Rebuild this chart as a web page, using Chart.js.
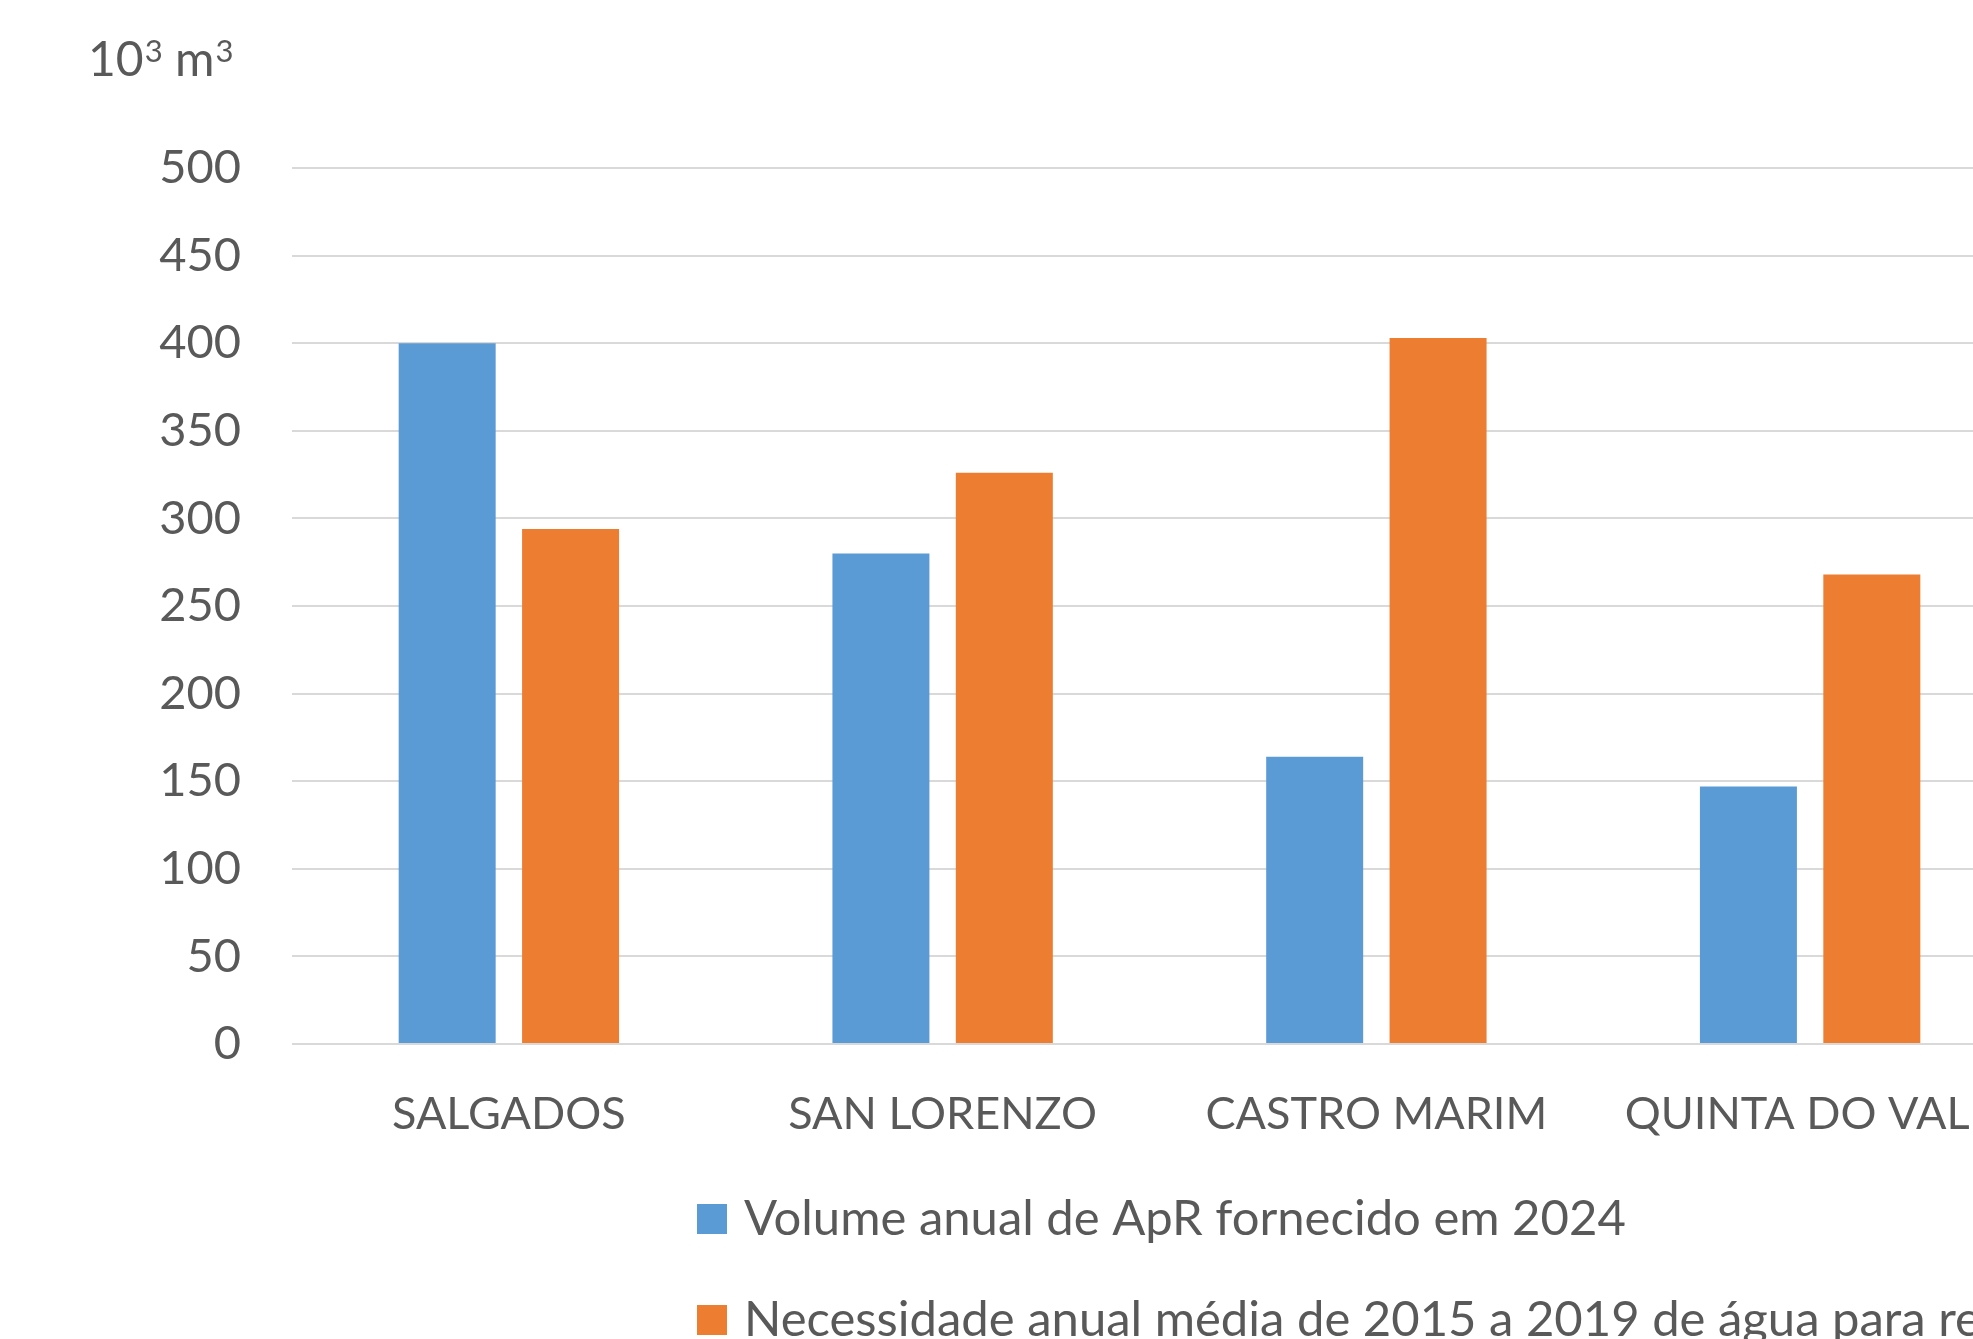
<!DOCTYPE html>
<html>
<head>
<meta charset="utf-8">
<script src="https://cdn.jsdelivr.net/npm/chart.js@4.4.1/dist/chart.umd.min.js"></script>
<style>
  html, body { margin: 0; padding: 0; background: #ffffff; overflow: hidden; }
  canvas { display: block; }
</style>
</head>
<body>
<canvas id="c" width="2060" height="1400" style="width:2060px;height:1400px"></canvas>
<script>
const categories = ['SALGADOS', 'SAN LORENZO', 'CASTRO MARIM', 'QUINTA DO VALE'];
const volume2024 = [400, 280, 164, 147];
const necessidade2015_2019 = [294, 326, 403, 268];
const seriesLabels = [
  'Volume anual de ApR fornecido em 2024',
  'Necessidade anual média de 2015 a 2019 de água para rega'
];
const unitParts = [['10', false], ['3', true], [' m', false], ['3', true]]; // 10³ m³
const yMin = 0, yMax = 500, yStep = 50;

const FONT = 'Lato, "Open Sans", sans-serif';
const TEXT = '#595959';
const BLUE = '#5B9BD5';
const ORANGE = '#ED7D31';

const extras = {
  id: 'extras',
  afterDraw(chart) {
    const ctx = chart.ctx;
    const area = chart.chartArea;
    ctx.save();
    ctx.fillStyle = TEXT;
    ctx.textAlign = 'left';
    // unit label 10³ m³
    let x = 88;
    ctx.textBaseline = 'alphabetic';
    unitParts.forEach(([t, sup]) => {
      ctx.font = (sup ? 31 : 48) + 'px ' + FONT;
      const y = sup ? 62 : 76;
      ctx.fillText(t, x, y);
      x += ctx.measureText(t).width + (sup ? 0 : 1);
    });
    // legend
    ctx.font = '49px ' + FONT;
    const lx = area.left + 405;
    const rows = [area.bottom + 175, area.bottom + 276];
    chart.data.datasets.forEach((ds, i) => {
      const cy = rows[i];
      ctx.fillStyle = ds.backgroundColor;
      ctx.fillRect(lx, cy - 15, 30, 30);
      ctx.fillStyle = TEXT;
      ctx.textBaseline = 'middle';
      ctx.fillText(ds.label, lx + 47, cy);
    });
    ctx.restore();
  }
};

new Chart(document.getElementById('c'), {
  type: 'bar',
  data: {
    labels: categories,
    datasets: [
      { label: seriesLabels[0], data: volume2024, backgroundColor: BLUE, borderWidth: 0 },
      { label: seriesLabels[1], data: necessidade2015_2019, backgroundColor: ORANGE, borderWidth: 0 }
    ]
  },
  options: {
    responsive: false,
    devicePixelRatio: 1,
    animation: false,
    datasets: { bar: { categoryPercentage: 0.569, barPercentage: 0.786 } },
    layout: { padding: { top: 168, left: 0, right: 33, bottom: 236 } },
    plugins: {
      legend: { display: false },
      tooltip: { enabled: false },
      title: { display: false }
    },
    scales: {
      x: {
        grid: { display: false, drawTicks: false },
        border: { display: false },
        ticks: { color: TEXT, font: { family: FONT, size: 45 }, padding: 43, maxRotation: 0, autoSkip: false },
        afterFit(scale) { scale.height = 120; }
      },
      y: {
        min: yMin, max: yMax,
        grid: { color: '#D9D9D9', lineWidth: 2, drawTicks: false },
        border: { display: false },
        ticks: { stepSize: yStep, color: TEXT, font: { family: FONT, size: 47 }, padding: 51 },
        afterFit(scale) { scale.width = 292; }
      }
    }
  },
  plugins: [extras]
});
</script>
</body>
</html>
